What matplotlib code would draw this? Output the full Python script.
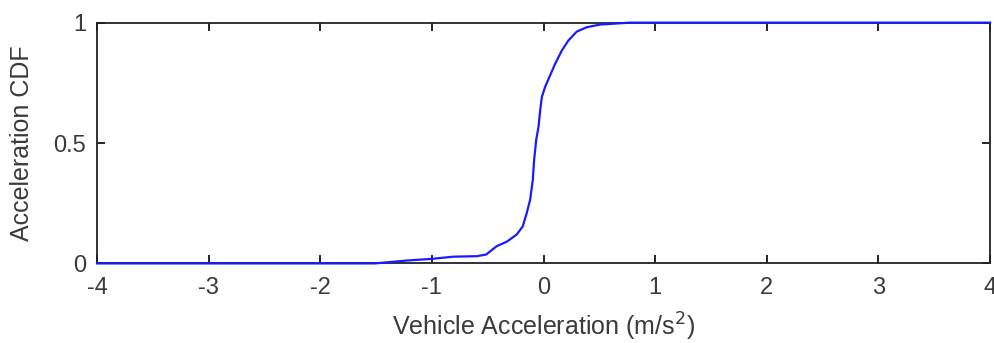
import matplotlib
matplotlib.use("Agg")
import matplotlib.pyplot as plt
from matplotlib import font_manager

# Empirical CDF of vehicle acceleration
accel = [-4.0, -1.51, -1.225, -1.0, -0.807, -0.598, -0.514, -0.418, -0.33, -0.24,
         -0.186, -0.15, -0.12, -0.096, -0.084, -0.066, -0.045, -0.03, -0.015,
         0.014, 0.059, 0.104, 0.164, 0.223, 0.298, 0.388, 0.507, 0.776, 4.0]
cdf = [0.0, 0.0, 0.012, 0.019, 0.028, 0.030, 0.037, 0.072, 0.09, 0.12,
       0.154, 0.21, 0.264, 0.347, 0.43, 0.512, 0.567, 0.636, 0.691,
       0.733, 0.781, 0.829, 0.884, 0.926, 0.963, 0.981, 0.992, 1.0, 1.0]

x_ticks = [-4, -3, -2, -1, 0, 1, 2, 3, 4]
y_ticks = [0, 0.5, 1]
y_tick_labels = ["0", "0.5", "1"]

names = {f.name for f in font_manager.fontManager.ttflist}
family = "Liberation Sans Narrow" if "Liberation Sans Narrow" in names else "Liberation Sans"
plt.rcParams["font.family"] = [family, "DejaVu Sans"]
text_color = "#3a3a3a"

fig = plt.figure(figsize=(9.95, 3.43), dpi=100)
ax = fig.add_axes([0.0975, 0.232, 0.8975, 0.702])
ax.plot(accel, cdf, color="#1a1aff", linewidth=1.6, zorder=3, clip_on=False)

ax.set_xlim(-4, 4)
ax.set_ylim(0, 1)
ax.set_xticks(x_ticks)
ax.set_xticklabels([str(t) for t in x_ticks])
ax.set_yticks(y_ticks)
ax.set_yticklabels(y_tick_labels)
ax.tick_params(direction="in", length=6, width=1.2, top=True, right=True,
               labelsize=17, labelcolor=text_color)
ax.tick_params(axis="x", pad=10)
ax.tick_params(axis="y", pad=8)
for s in ax.spines.values():
    s.set_linewidth(1.3)
    s.set_color("#222222")

ax.set_xlabel("Vehicle Acceleration (m/s$^2$)", fontsize=18, color=text_color, labelpad=8)
ax.set_ylabel("Acceleration CDF", fontsize=18, color=text_color, labelpad=14)

fig.savefig("out.png", dpi=100)
